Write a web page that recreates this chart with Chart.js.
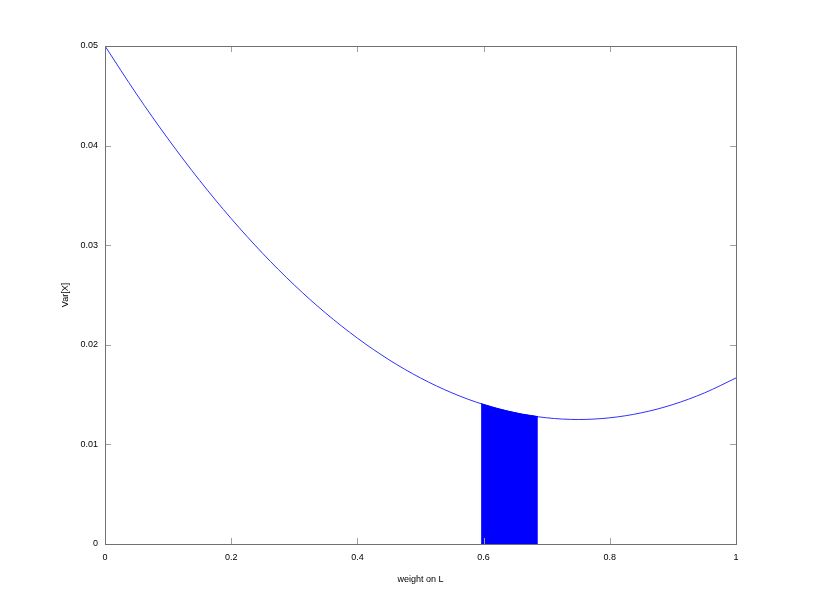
<!DOCTYPE html>
<html lang="en">
<head>
    <meta charset="UTF-8">
    <title>Var[X] vs weight on L</title>
    <script src="https://cdn.jsdelivr.net/npm/chart.js"></script>
    <style>
        html, body { margin: 0; padding: 0; background: #fff; }
        canvas { display: block; }
    </style>
</head>
<body>
    <canvas id="chart" width="814" height="610"></canvas>
    <script>
        // weight on L and the variance
        const weights = [0, 0.05, 0.1, 0.15, 0.2, 0.25, 0.3, 0.35, 0.4, 0.45, 0.5,
                         0.55, 0.6, 0.65, 0.7, 0.75, 0.8, 0.85, 0.9, 0.95, 1];
        const variance = [0.05, 0.04517, 0.04067, 0.0365, 0.03267, 0.02917, 0.026, 0.02317, 0.02067, 0.0185, 0.01667,
                          0.01517, 0.014, 0.01317, 0.01267, 0.0125, 0.01267, 0.01317, 0.014, 0.01517, 0.01667];

        // shaded band under the curve
        const shadeWeights = [0.596, 0.62, 0.64, 0.66, 0.686];
        const shadeVariance = [0.01409, 0.01364, 0.01332, 0.01305, 0.01279];

        // ticks
        const xTicks = [0, 0.2, 0.4, 0.6, 0.8, 1];
        const yTicks = [0, 0.01, 0.02, 0.03, 0.04, 0.05];

        const toPoints = (xs, ys) => xs.map((x, i) => ({ x: x, y: ys[i] }));
        const fmt = v => String(+Number(v).toFixed(2));

        // gnuplot style frame with inward ticks on every side
        const framePlugin = {
            id: 'frame',
            afterDatasetsDraw(chart) {
                const { ctx, chartArea: a, scales } = chart;
                ctx.save();
                ctx.lineWidth = 1;
                ctx.strokeStyle = '#a0a0a0';
                ctx.beginPath();
                xTicks.forEach(v => {
                    const px = Math.round(scales.x.getPixelForValue(v)) + 0.5;
                    ctx.moveTo(px, a.bottom); ctx.lineTo(px, a.bottom - 6);
                    ctx.moveTo(px, a.top); ctx.lineTo(px, a.top + 6);
                });
                yTicks.forEach(v => {
                    const py = Math.round(scales.y.getPixelForValue(v)) + 0.5;
                    ctx.moveTo(a.left, py); ctx.lineTo(a.left + 6, py);
                    ctx.moveTo(a.right, py); ctx.lineTo(a.right - 6, py);
                });
                ctx.stroke();
                ctx.strokeStyle = '#707070';
                ctx.strokeRect(Math.round(a.left) + 0.5, Math.round(a.top) + 0.5,
                               Math.round(a.right - a.left), Math.round(a.bottom - a.top));
                ctx.restore();
            }
        };

        const tickFont = { family: 'Liberation Sans, Arial, sans-serif', size: 9 };

        new Chart(document.getElementById('chart'), {
            type: 'scatter',
            data: {
                datasets: [
                    {
                        data: toPoints(shadeWeights, shadeVariance),
                        showLine: true,
                        fill: 'origin',
                        backgroundColor: '#0000ff',
                        borderColor: '#0000ff',
                        borderWidth: 1,
                        pointRadius: 0,
                        tension: 0
                    },
                    {
                        data: toPoints(weights, variance),
                        showLine: true,
                        fill: false,
                        borderColor: '#3030ff',
                        borderWidth: 1,
                        pointRadius: 0,
                        cubicInterpolationMode: 'monotone'
                    }
                ]
            },
            options: {
                responsive: false,
                animation: false,
                layout: { padding: { left: 0, top: 46, right: 78, bottom: 0 } },
                plugins: { legend: { display: false }, tooltip: { enabled: false } },
                scales: {
                    x: {
                        type: 'linear',
                        min: 0,
                        max: 1,
                        afterBuildTicks: s => { s.ticks = xTicks.map(v => ({ value: v })); },
                        afterFit: s => { s.height = 66; },
                        grid: { display: false, drawTicks: false },
                        border: { display: false },
                        ticks: { padding: 8, color: '#000', font: tickFont, maxRotation: 0, callback: fmt },
                        title: {
                            display: true,
                            text: 'weight on L',
                            color: '#000',
                            font: tickFont,
                            padding: { top: 0, bottom: 25 }
                        }
                    },
                    y: {
                        type: 'linear',
                        min: 0,
                        max: 0.05,
                        afterBuildTicks: s => { s.ticks = yTicks.map(v => ({ value: v })); },
                        afterFit: s => { s.width = 105; },
                        grid: { display: false, drawTicks: false },
                        border: { display: false },
                        ticks: { padding: 7, color: '#000', font: tickFont, callback: fmt },
                        title: {
                            display: true,
                            text: 'Var[X]',
                            color: '#000',
                            font: tickFont,
                            padding: { top: 60, bottom: 0 }
                        }
                    }
                }
            },
            plugins: [framePlugin]
        });
    </script>
</body>
</html>
